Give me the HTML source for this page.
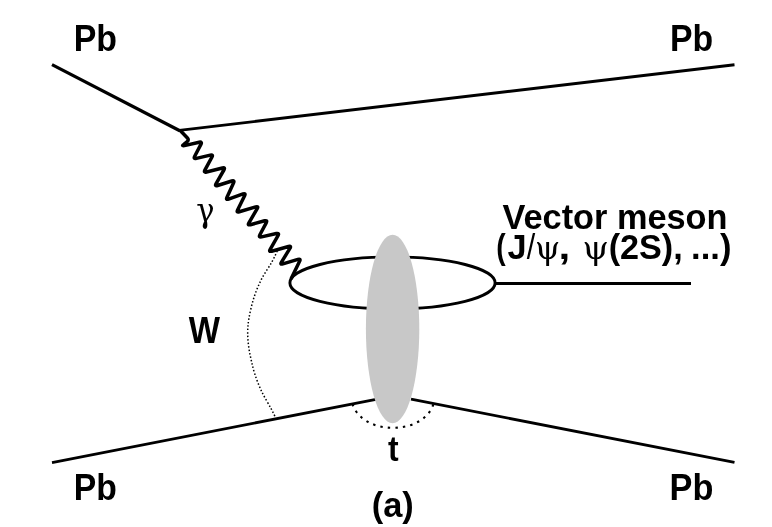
<!DOCTYPE html>
<html><head><meta charset="utf-8"><title>Feynman diagram (a)</title>
<style>
html,body{margin:0;padding:0;background:#fff;}
svg{display:block;filter:blur(0.45px);}
text{font-family:"Liberation Sans",sans-serif;font-weight:bold;font-size:35.8px;fill:#000;}
.nb{font-weight:normal;}
.sym{font-family:"DejaVu Serif","Liberation Serif",serif;font-weight:normal;}
</style></head><body>
<svg width="772" height="527" viewBox="0 0 772 527">
<rect width="772" height="527" fill="#fff"/>
<g fill="none" stroke="#000" stroke-width="2.9" stroke-linecap="butt" stroke-linejoin="round">
<line x1="52" y1="64.6" x2="179.8" y2="130.7" stroke-width="3.3"/>
<line x1="179.3" y1="130.4" x2="734.5" y2="64.7"/>
<line x1="52" y1="462.6" x2="376" y2="399.3"/>
<line x1="411" y1="399.1" x2="734.5" y2="462.4"/>
<ellipse cx="392.5" cy="282.9" rx="102.6" ry="26.0"/>
<line x1="495" y1="283.5" x2="691" y2="283.5"/>
<path d="M180.0 130.3 L187.2 137.7 Q189.4 140.0 186.9 141.9 L183.8 144.3 Q181.2 146.2 184.4 145.6 L199.2 142.2 Q202.4 141.6 200.9 144.4 L194.7 156.3 Q193.2 159.1 196.4 158.4 L210.3 155.1 Q213.5 154.4 211.9 157.2 L205.0 169.9 Q203.4 172.7 206.5 172.0 L222.4 168.0 Q225.5 167.3 223.9 170.0 L216.1 183.7 Q214.5 186.4 217.6 185.5 L231.8 181.0 Q234.9 180.1 233.5 183.0 L227.0 197.2 Q225.6 200.1 228.6 199.1 L243.0 193.9 Q246.0 192.9 244.6 195.7 L237.6 209.9 Q236.2 212.7 239.3 211.8 L255.7 206.9 Q258.8 206.0 257.2 208.7 L248.9 222.8 Q247.3 225.5 250.4 224.7 L264.6 220.8 Q267.7 220.0 266.2 222.8 L259.9 234.7 Q258.4 237.5 261.6 236.9 L276.4 233.5 Q279.6 232.9 278.0 235.6 L270.2 249.3 Q268.6 252.0 271.7 251.2 L288.5 246.5 Q291.6 245.7 289.9 248.4 L281.5 262.1 Q279.8 264.8 282.9 263.9 L297.9 259.4 Q301.0 258.5 299.6 261.3 L291.0 279.0" stroke-width="3.5"/>
</g>
<ellipse cx="392.6" cy="329" rx="26.7" ry="94.3" fill="#c8c8c8"/>
<path d="M277.3 251.0 C276.4 252.8 274.4 257.4 271.8 262.1 C269.2 266.8 264.5 273.2 261.5 279.2 C258.5 285.2 255.9 291.4 253.8 298.0 C251.7 304.6 249.9 312.8 248.9 318.5 C247.9 324.2 247.8 327.4 247.7 332.0 C247.6 336.6 248.0 341.3 248.6 346.0 C249.2 350.7 250.1 355.3 251.2 360.0 C252.2 364.7 253.2 369.1 254.9 374.3 C256.6 379.5 258.9 385.7 261.6 391.4 C264.3 397.1 268.7 404.1 271.0 408.5 C273.3 412.9 274.8 416.1 275.6 417.6" fill="none" stroke="#000" stroke-width="1.5" stroke-dasharray="1.5 2"/>
<path d="M352.6 404 C356 416 370 427.8 393 427.8 C416 427.8 430 416 433.4 404" fill="none" stroke="#000" stroke-width="2.1" stroke-dasharray="2.4 5.1"/>
<text x="73.71" y="50.9" style="font-size:37px" textLength="43.29" lengthAdjust="spacingAndGlyphs">Pb</text>
<text x="669.92" y="50.9" style="font-size:37px" textLength="43.18" lengthAdjust="spacingAndGlyphs">Pb</text>
<text x="73.82" y="500.2" style="font-size:37px" textLength="43.07" lengthAdjust="spacingAndGlyphs">Pb</text>
<text x="669.58" y="500.2" style="font-size:37px" textLength="43.84" lengthAdjust="spacingAndGlyphs">Pb</text>
<text x="188.70" y="342.6" style="font-size:37.8px" textLength="31.26" lengthAdjust="spacingAndGlyphs">W</text>
<text x="387.95" y="461.4" textLength="10.62" lengthAdjust="spacingAndGlyphs">t</text>
<text x="371.75" y="517.0" style="font-size:34.4px" textLength="42.03" lengthAdjust="spacingAndGlyphs">(a)</text>
<text x="502.46" y="228.9" textLength="225.11" lengthAdjust="spacingAndGlyphs">Vector meson</text>
<text x="196.33" y="222.15" class="sym" style="font-size:32.63px" textLength="18.28" lengthAdjust="spacingAndGlyphs">γ</text>
<text><tspan x="496.22" y="259.3" textLength="9.42" lengthAdjust="spacingAndGlyphs">(</tspan><tspan x="507.52" y="259.3" textLength="19.10" lengthAdjust="spacingAndGlyphs">J</tspan><tspan x="526.70" y="259.3" class="nb" textLength="8.46" lengthAdjust="spacingAndGlyphs">/</tspan><tspan x="535.12" y="258.65" class="sym" style="font-size:32.5px" textLength="25.26" lengthAdjust="spacingAndGlyphs">ψ</tspan><tspan x="558.45" y="259.3" textLength="11.74" lengthAdjust="spacingAndGlyphs">,</tspan> <tspan x="582.43" y="258.65" class="sym" style="font-size:32.5px" textLength="26.45" lengthAdjust="spacingAndGlyphs">ψ</tspan><tspan x="608.63" y="259.3" textLength="74.10" lengthAdjust="spacingAndGlyphs">(2S),</tspan> <tspan x="691.09" y="259.3" textLength="40.32" lengthAdjust="spacingAndGlyphs">...)</tspan></text>
</svg>
</body></html>
